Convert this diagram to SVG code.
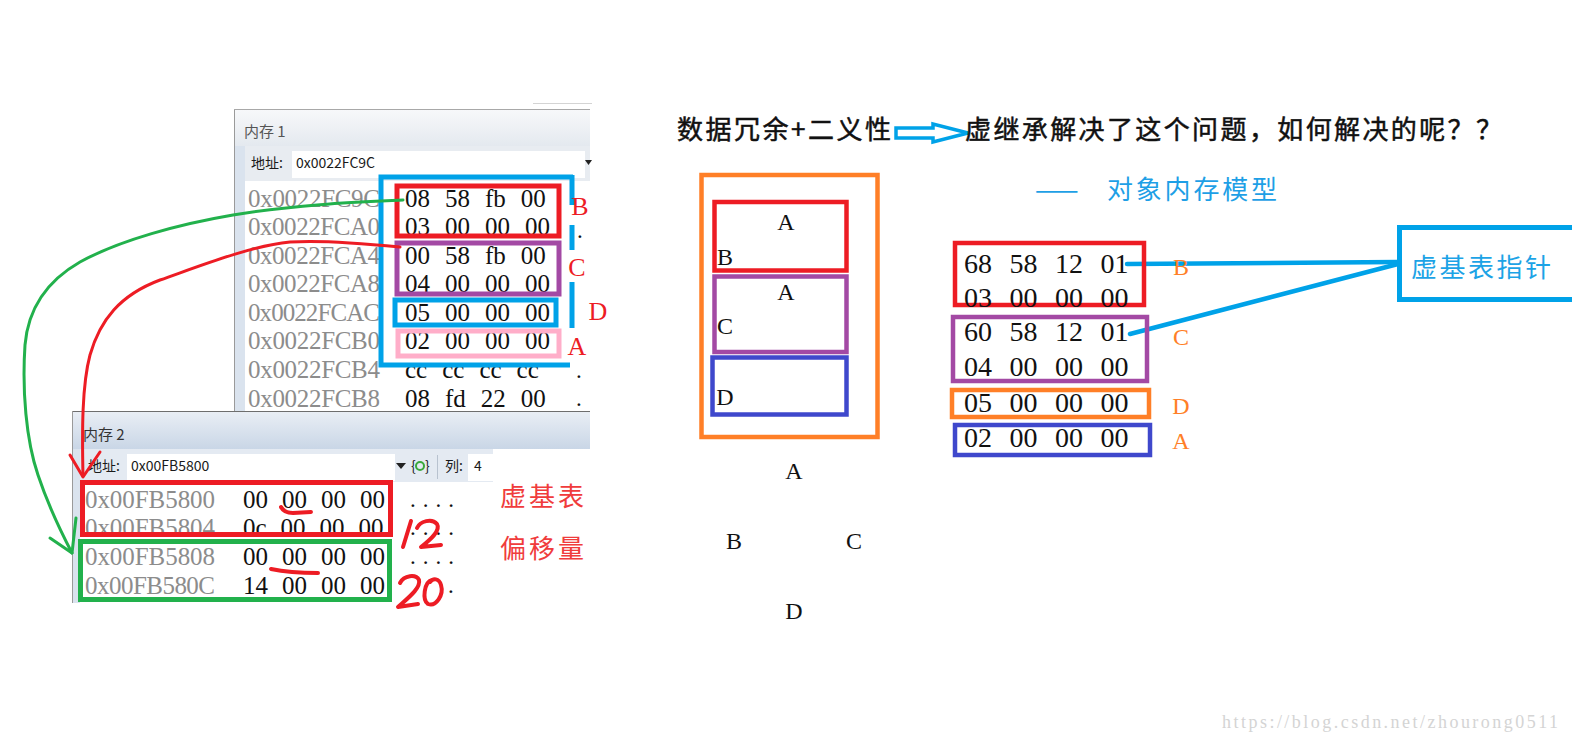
<svg xmlns="http://www.w3.org/2000/svg" width="1572" height="743" viewBox="0 0 1572 743">
<defs>
<linearGradient id="tb1" x1="0" y1="0" x2="0" y2="1"><stop offset="0" stop-color="#f7f8fa"/><stop offset="1" stop-color="#e4e9ef"/></linearGradient>
<linearGradient id="tb2" x1="0" y1="0" x2="0" y2="1"><stop offset="0" stop-color="#e9eef5"/><stop offset="1" stop-color="#c9d6e6"/></linearGradient>
</defs>
<style>
.cjk{font-family:"Noto Sans CJK SC","Noto Sans",sans-serif}
.ui{font-family:"Noto Sans CJK SC","Noto Sans",sans-serif;font-size:14px;fill:#1a1a1a}
.addr{font-family:"Liberation Serif",serif;font-size:25px;fill:#8c8c8c}
.hex{font-family:"Liberation Serif",serif;font-size:25px;fill:#111;word-spacing:8.75px}
.hexb{font-family:"Liberation Serif",serif;font-size:25px;fill:#111;word-spacing:7.75px}
.hex2{font-family:"Liberation Serif",serif;font-size:28px;fill:#111;word-spacing:10.5px}
.ser{font-family:"Liberation Serif",serif}
.box{fill:none;stroke-width:5}
.box4{fill:none;stroke-width:4.5}
.hand{fill:none;stroke:#ed1c24;stroke-width:4;stroke-linecap:round;stroke-linejoin:round}
.red{stroke:#ed1c24}.blue{stroke:#00a2e8}.pur{stroke:#a349a4}.pink{stroke:#ffaec9}.grn{stroke:#22b14c}.org{stroke:#ff7f27}.ind{stroke:#3f48cc}
.dot{font-family:"Liberation Serif",serif;font-size:23px;fill:#111}
.ttl{font-size:26px;fill:#111;stroke:#111;stroke-width:0.5}
</style>
<rect width="1572" height="743" fill="#fff"/>

<g id="memory-window-1">
<line x1="533" y1="103.5" x2="592" y2="103.5" stroke="#d4d4d4"/>
<rect x="234" y="109" width="356" height="303" fill="#fff"/>
<rect x="235" y="110" width="355" height="36" fill="url(#tb1)"/>
<rect x="245" y="146" width="345" height="35" fill="#e8ecf1"/>
<rect x="292" y="151" width="293" height="27" fill="#fff"/>
<rect x="235" y="146" width="10" height="265" fill="#dae3ee"/>
<line x1="234.5" y1="109" x2="234.5" y2="412" stroke="#9a9a9a"/>
<line x1="234" y1="109.5" x2="590" y2="109.5" stroke="#a8a8a8"/>
<text x="244" y="137" class="cjk" font-size="15" fill="#555">内存 1</text>
<text x="251" y="168" class="ui" font-size="15">地址:</text>
<text x="296" y="168" class="ui">0x0022FC9C</text>
<polygon points="585,160 592,160 588.5,165" fill="#222"/>
<g class="addr">
<text x="248" y="207" textLength="132">0x0022FC9C</text>
<text x="248" y="235" textLength="132">0x0022FCA0</text>
<text x="248" y="264" textLength="132">0x0022FCA4</text>
<text x="248" y="292" textLength="132">0x0022FCA8</text>
<text x="248" y="321" textLength="132">0x0022FCAC</text>
<text x="248" y="349" textLength="132">0x0022FCB0</text>
<text x="248" y="378" textLength="132">0x0022FCB4</text>
<text x="248" y="407" textLength="132">0x0022FCB8</text>
</g>
<g class="hex">
<text x="405" y="207">08 58 fb 00</text>
<text x="405" y="235">03 00 00 00</text>
<text x="405" y="264">00 58 fb 00</text>
<text x="405" y="292">04 00 00 00</text>
<text x="405" y="321">05 00 00 00</text>
<text x="405" y="349">02 00 00 00</text>
<text x="405" y="378">cc cc cc cc</text>
<text x="405" y="407">08 fd 22 00</text>
</g>
<text x="577" y="238" class="dot" font-size="14">.</text>
<text x="576" y="378" class="dot">.</text>
<text x="576" y="406" class="dot">.</text>
</g>

<g id="object-box-outer-blue">
<path d="M572,175 V205 M572,225 V250 M572,282 V328 M573,177 H381 V365 H570" class="box blue"/>
</g>
<g id="object-box-B"><rect x="397" y="186" width="162" height="50" class="box red"/><text x="580" y="215" class="ser" font-size="26" fill="#ed1c24" text-anchor="middle">B</text></g>
<g id="object-box-C"><rect x="397" y="243" width="162" height="51" class="box pur"/><text x="577" y="276" class="ser" font-size="26" fill="#ed1c24" text-anchor="middle">C</text></g>
<g id="object-box-D"><rect x="395" y="300" width="161" height="25" class="box blue"/><text x="598" y="320" class="ser" font-size="26" fill="#ed1c24" text-anchor="middle">D</text></g>
<g id="object-box-A"><rect x="398" y="331" width="161" height="25" class="box pink"/><text x="577" y="355" class="ser" font-size="26" fill="#ed1c24" text-anchor="middle">A</text></g>

<g id="memory-window-2">
<rect x="72" y="411" width="518" height="192" fill="#fff"/>
<rect x="73" y="412" width="517" height="37" fill="url(#tb2)"/>
<rect x="73" y="449" width="7" height="154" fill="#dae3ee"/>
<rect x="80" y="449" width="413" height="33" fill="#e4eaf2"/>
<rect x="127" y="454" width="268" height="27" fill="#fff"/>
<rect x="468" y="454" width="25" height="27" fill="#fff"/>
<line x1="72" y1="411.5" x2="590" y2="411.5" stroke="#6e6e6e"/>
<line x1="72.5" y1="411" x2="72.5" y2="603" stroke="#9a9a9a"/>
<text x="83" y="440" class="cjk" font-size="15" fill="#333">内存 2</text>
<text x="88" y="471" class="ui" font-size="15">地址:</text>
<text x="131" y="471" class="ui">0x00FB5800</text>
<polygon points="396,463 406,463 401,469" fill="#222"/>
<text x="411" y="471" class="ui">{</text>
<circle cx="420" cy="466" r="4" fill="none" stroke="#3aa83a" stroke-width="2"/>
<text x="425" y="471" class="ui">}</text>
<line x1="437.5" y1="455" x2="437.5" y2="479" stroke="#b8c2cf"/>
<text x="445" y="471" class="ui">列:</text>
<text x="474" y="471" class="ui">4</text>
<g class="addr">
<text x="85" y="508" textLength="130">0x00FB5800</text>
<text x="85" y="536" textLength="130">0x00FB5804</text>
<text x="85" y="565" textLength="130">0x00FB5808</text>
<text x="85" y="594" textLength="130">0x00FB580C</text>
</g>
<g class="hexb">
<text x="243" y="508">00 00 00 00</text>
<text x="243" y="536">0c 00 00 00</text>
<text x="243" y="565">00 00 00 00</text>
<text x="243" y="594">14 00 00 00</text>
</g>
<g class="dot">
<text x="410" y="507" textLength="44">....</text>
<text x="410" y="535" textLength="44">....</text>
<text x="410" y="564" textLength="44">....</text>
<text x="448" y="593">.</text>
</g>
</g>

<g id="vbtable-boxes">
<rect x="82.5" y="482.5" width="308" height="52" class="box red"/>
<rect x="80.5" y="541.5" width="309" height="58" class="box grn"/>
<path d="M281,507 C283,511 287,513 293,513 L311,512" class="hand" stroke-width="3"/>
<path d="M271,569 C285,572 300,573 318,573" class="hand" stroke-width="3"/>
<path d="M411,521 L403,547 M417,528 C420,521 432,518 437,524 C441,531 430,540 421,547 L441,545" class="hand"/>
<path d="M400,583 C404,575 416,574 419,580 C421,588 408,598 398,607 L418,604 M432,580 C424,582 422,600 428,604 C436,607 444,595 441,585 C439,578 433,578 430,582" class="hand"/>
<text x="500" y="506" class="cjk" font-size="26" fill="#f03c3c" textLength="84">虚基表</text>
<text x="500" y="558" class="cjk" font-size="26" fill="#f03c3c" textLength="84">偏移量</text>
</g>

<g id="connectors" fill="none" stroke-linecap="round" stroke-linejoin="round">
<path d="M403,200 C360,202 300,204 233,215 C180,224 120,240 80,262 C45,282 28,310 25,345 C22,390 26,440 38,475 C48,505 60,530 72,553" stroke="#22b14c" stroke-width="3"/>
<path d="M50,538 L72,553 L76,518" stroke="#22b14c" stroke-width="3"/>
<path d="M400,247 C370,244 320,240 290,242 C250,246 200,266 160,280 C120,295 100,320 90,355 C82,385 82,430 83,476" stroke="#ed1c24" stroke-width="3"/>
<path d="M70,455 L83,477 L100,452" stroke="#ed1c24" stroke-width="3"/>
<polygon points="896,128 933,128 933,124 968,133 933,142 933,138 896,138" fill="#fff" stroke="#00a2e8" stroke-width="3.5" stroke-linejoin="miter"/>
<path d="M1127,264 L1398,262" stroke="#00a2e8" stroke-width="4.5"/>
<path d="M1130,334 L1398,264" stroke="#00a2e8" stroke-width="4.5"/>
</g>

<g id="title">
<text x="677" y="139" class="cjk ttl" textLength="214">数据冗余+二义性</text>
<text x="965" y="139" class="cjk ttl" textLength="537">虚继承解决了这个问题，如何解决的呢？？</text>
<text x="1035" y="199" class="cjk" font-size="26" fill="#1e9fe6" textLength="53">——</text>
<text x="1107" y="199" class="cjk" font-size="26" fill="#1e9fe6" textLength="170">对象内存模型</text>
</g>

<g id="layout-diagram">
<rect x="701.5" y="175" width="176" height="262" class="box4 org"/>
<rect x="714.5" y="202" width="132" height="68.5" class="box4 red"/>
<rect x="714.5" y="276.5" width="132" height="75.5" class="box4 pur"/>
<rect x="712.5" y="357.5" width="134" height="57" class="box4 ind"/>
<g class="ser" font-size="24" fill="#111" text-anchor="middle">
<text x="786" y="230">A</text>
<text x="725" y="265">B</text>
<text x="786" y="300">A</text>
<text x="725" y="334">C</text>
<text x="725" y="405">D</text>
</g>
</g>

<g id="diamond-labels" class="ser" font-size="24" fill="#111" text-anchor="middle">
<text x="794" y="479">A</text>
<text x="734" y="549">B</text>
<text x="854" y="549">C</text>
<text x="794" y="619">D</text>
</g>

<g id="object-model">
<rect x="955" y="243" width="189" height="62" class="box4 red"/>
<rect x="953" y="317" width="194" height="64" class="box4 pur"/>
<rect x="952" y="390" width="197" height="27" class="box4 org"/>
<rect x="955" y="425" width="195" height="30" class="box4 ind"/>
<g class="hex2">
<text x="964" y="273">68 58 12 01</text>
<text x="964" y="307">03 00 00 00</text>
<text x="964" y="341">60 58 12 01</text>
<text x="964" y="376">04 00 00 00</text>
<text x="964" y="412">05 00 00 00</text>
<text x="964" y="447">02 00 00 00</text>
</g>
<g class="ser" font-size="24" fill="#ff7f27" text-anchor="middle">
<text x="1181" y="275">B</text>
<text x="1181" y="345">C</text>
<text x="1181" y="414">D</text>
<text x="1181" y="449">A</text>
</g>
</g>

<g id="vbptr-box">
<rect x="1399.5" y="227.5" width="200" height="72" class="box blue"/>
<text x="1411" y="277" class="cjk" font-size="26" fill="#1ca3e6" textLength="140">虚基表指针</text>
</g>

<text x="1222" y="728" class="ser" font-size="18" fill="#d4d4d4" textLength="336">https://blog.csdn.net/zhourong0511</text>
</svg>
